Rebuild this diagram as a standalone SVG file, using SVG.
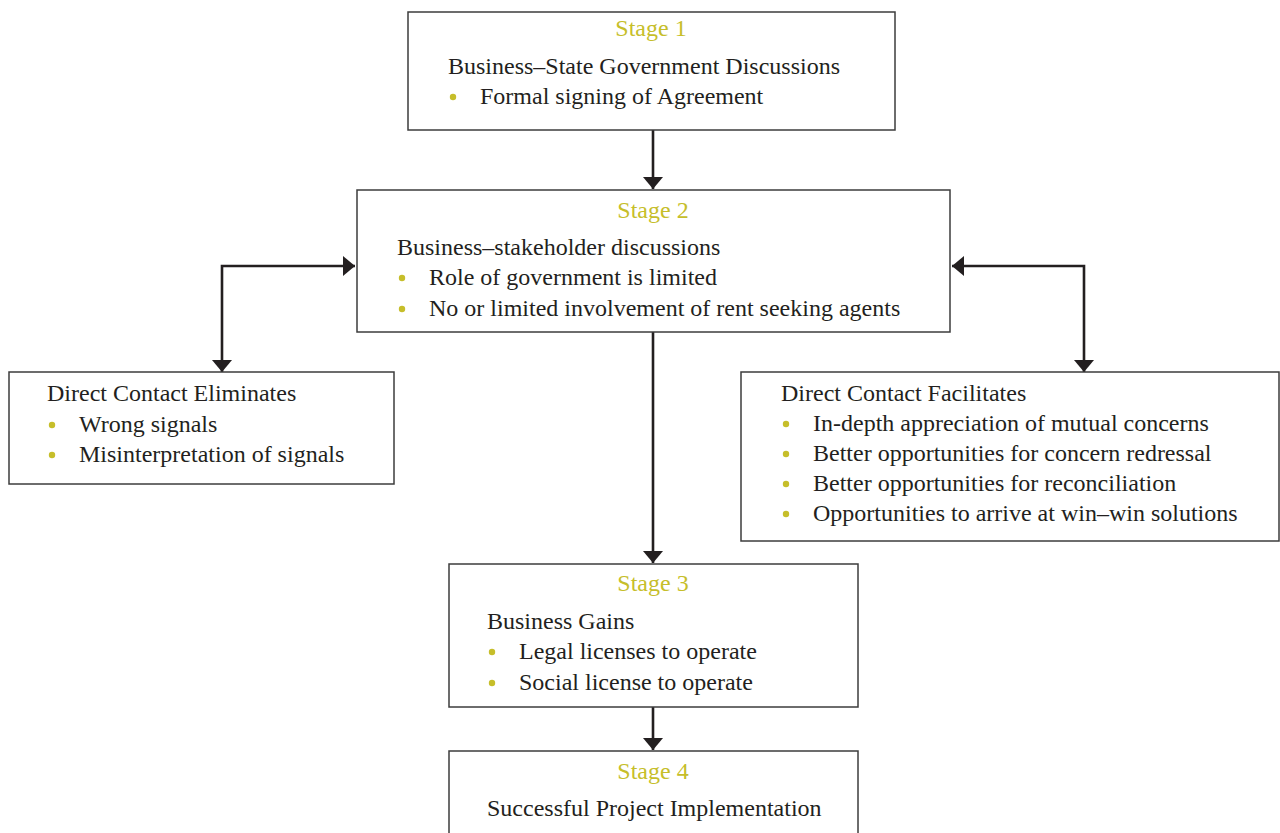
<svg xmlns="http://www.w3.org/2000/svg" width="1280" height="833" viewBox="0 0 1280 833">
<defs>
<style>
.box{fill:#ffffff;stroke:#3c3c3c;stroke-width:1.5}
.t{font-family:"Liberation Serif","DejaVu Serif",serif;font-size:24px;fill:#231f20}
.st{font-family:"Liberation Serif","DejaVu Serif",serif;font-size:24px;fill:#c6be2a}
.b{fill:#c6be2a}
.conn{fill:none;stroke:#231f20;stroke-width:2.6}
</style>
<marker id="ah" markerUnits="userSpaceOnUse" viewBox="0 0 12 20" markerWidth="12" markerHeight="20" refX="12" refY="10" orient="auto-start-reverse">
<path d="M0,0 L12,10 L0,20 z" fill="#231f20"/>
</marker>
</defs>
<rect width="1280" height="833" fill="#ffffff"/>

<g id="connectors">
<path class="conn" d="M653,130 V189" marker-end="url(#ah)"/>
<path class="conn" d="M355,266 H222 V372" marker-start="url(#ah)" marker-end="url(#ah)"/>
<path class="conn" d="M952,266 H1084 V372" marker-start="url(#ah)" marker-end="url(#ah)"/>
<path class="conn" d="M653,332 V563" marker-end="url(#ah)"/>
<path class="conn" d="M653,707 V750" marker-end="url(#ah)"/>
</g>

<g id="stage1">
<rect class="box" x="408" y="12" width="487" height="118"/>
<text class="st" x="651" y="36" text-anchor="middle">Stage 1</text>
<text class="t" x="448" y="74">Business–State Government Discussions</text>
<circle class="b" cx="453" cy="97" r="3.2"/>
<text class="t" x="480" y="104">Formal signing of Agreement</text>
</g>

<g id="stage2">
<rect class="box" x="357" y="190" width="593" height="142"/>
<text class="st" x="653" y="218" text-anchor="middle">Stage 2</text>
<text class="t" x="397" y="255">Business–stakeholder discussions</text>
<circle class="b" cx="402" cy="278" r="3.2"/>
<text class="t" x="429" y="285">Role of government is limited</text>
<circle class="b" cx="402" cy="309" r="3.2"/>
<text class="t" x="429" y="316">No or limited involvement of rent seeking agents</text>
</g>

<g id="eliminates">
<rect class="box" x="9" y="372" width="385" height="112"/>
<text class="t" x="47" y="401">Direct Contact Eliminates</text>
<circle class="b" cx="52" cy="425" r="3.2"/>
<text class="t" x="79" y="432">Wrong signals</text>
<circle class="b" cx="52" cy="455" r="3.2"/>
<text class="t" x="79" y="462">Misinterpretation of signals</text>
</g>

<g id="facilitates">
<rect class="box" x="741" y="372" width="538" height="169"/>
<text class="t" x="781" y="401">Direct Contact Facilitates</text>
<circle class="b" cx="786" cy="424" r="3.2"/>
<text class="t" x="813" y="431">In-depth appreciation of mutual concerns</text>
<circle class="b" cx="786" cy="454" r="3.2"/>
<text class="t" x="813" y="461">Better opportunities for concern redressal</text>
<circle class="b" cx="786" cy="484" r="3.2"/>
<text class="t" x="813" y="491">Better opportunities for reconciliation</text>
<circle class="b" cx="786" cy="514" r="3.2"/>
<text class="t" x="813" y="521">Opportunities to arrive at win–win solutions</text>
</g>

<g id="stage3">
<rect class="box" x="449" y="564" width="409" height="143"/>
<text class="st" x="653" y="591" text-anchor="middle">Stage 3</text>
<text class="t" x="487" y="629">Business Gains</text>
<circle class="b" cx="492" cy="652" r="3.2"/>
<text class="t" x="519" y="659">Legal licenses to operate</text>
<circle class="b" cx="492" cy="683" r="3.2"/>
<text class="t" x="519" y="690">Social license to operate</text>
</g>

<g id="stage4">
<rect class="box" x="449" y="751" width="409" height="100"/>
<text class="st" x="653" y="779" text-anchor="middle">Stage 4</text>
<text class="t" x="487" y="816">Successful Project Implementation</text>
</g>
</svg>
